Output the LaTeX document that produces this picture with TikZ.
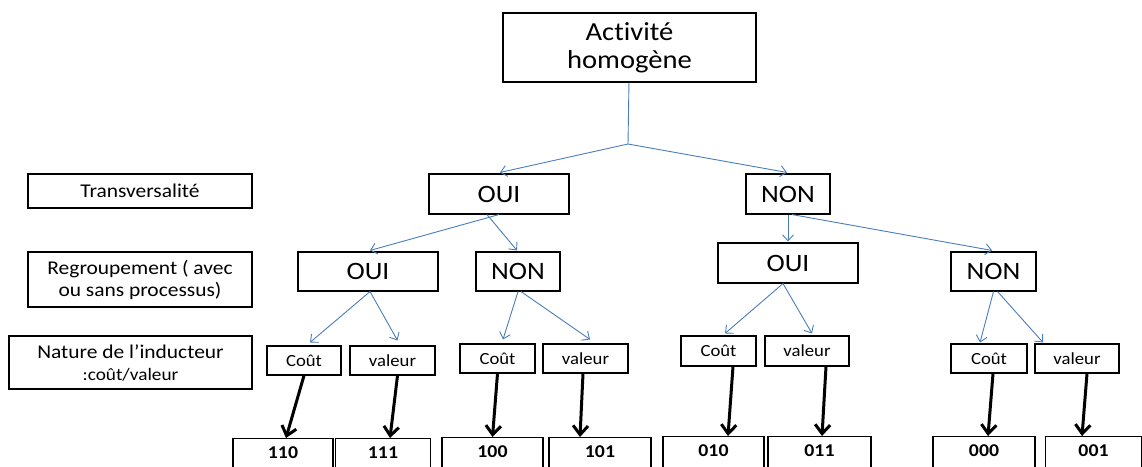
\documentclass[tikz,border=0pt]{standalone}
\usepackage{fontspec}
\setmainfont{Carlito}[FakeStretch=1.1,Ligatures=NoCommon]
\usepackage{tikz}
\usetikzlibrary{arrows.meta}
\definecolor{lien}{RGB}{74,126,187}

\begin{document}
\begin{tikzpicture}[x=1pt,y=-1pt,
    boite/.style={draw,line width=1.1pt,inner sep=0pt,align=center},
    crit/.style={boite,minimum width=224pt,font=\fontsize{19.5}{22}\selectfont},
    rep/.style={boite,minimum height=40pt,font=\fontsize{25}{27}\selectfont},
    induc/.style={boite,minimum height=29pt,font=\fontsize{17}{19}\selectfont},
    code/.style={boite,anchor=north,text height=20pt,text depth=30pt,font=\fontsize{18}{20}\selectfont\bfseries},
    fleche/.style={lien,line width=0.9pt,-{Straight Barb[length=6pt,width=11pt]}},
    grosse/.style={black,line width=3pt,-{Straight Barb[length=9pt,width=15pt]}}]
    \useasboundingbox (0,0) rectangle (1142,466);
    \clip (0,0) rectangle (1142,466);

    % racine et criteres
    \node[boite,minimum width=253pt,minimum height=69pt,font=\fontsize{26}{28}\selectfont] (racine) at (629.5,47.5) {Activité\\homogène};
    \node[crit,minimum height=34pt] (transv) at (140,191) {Transversalité};
    \node[crit,minimum height=55pt] (regroup) at (140,279.5) {Regroupement ( avec\\ou sans processus)};
    \node[crit,minimum width=243pt,minimum height=53pt] (nature) at (130.5,362.5) {Nature de l’inducteur\\{\fontsize{17.5}{20}\selectfont :coût/valeur}};

    % niveau 1 et 2
    \node[rep,minimum width=140pt] (oui1) at (499,194) {OUI};
    \node[rep,minimum width=84pt] (non1) at (788,194) {NON};
    \node[rep,minimum width=140pt,minimum height=39pt] (ouiA) at (368,271.5) {OUI};
    \node[rep,minimum width=84pt,minimum height=39pt] (nonA) at (518,271.5) {NON};
    \node[rep,minimum width=140pt] (ouiB) at (788,263) {OUI};
    \node[rep,minimum width=85pt,minimum height=39pt] (nonB) at (993.5,271.5) {NON};

    % niveau 3
    \node[induc,minimum width=74pt] (coutA) at (304,360.5) {Coût};
    \node[induc,minimum width=85pt] (valA) at (392.5,360.5) {valeur};
    \node[induc,minimum width=75pt] (coutB) at (497.5,358.5) {Coût};
    \node[induc,minimum width=85pt] (valB) at (585.5,358.5) {valeur};
    \node[induc,minimum width=75pt,minimum height=30pt] (coutC) at (718.5,351) {Coût};
    \node[induc,minimum width=84pt,minimum height=30pt] (valC) at (807,351) {valeur};
    \node[induc,minimum width=76pt] (coutD) at (989,358.5) {Coût};
    \node[induc,minimum width=84pt] (valD) at (1077,358.5) {valeur};

    % codes
    \node[code,minimum width=100pt] (c110) at (283,438) {110};
    \node[code,minimum width=95pt] (c111) at (383,438) {111};
    \node[code,minimum width=101pt] (c100) at (492.5,437) {100};
    \node[code,minimum width=102pt] (c101) at (600,437) {101};
    \node[code,minimum width=101pt] (c010) at (713.5,436) {010};
    \node[code,minimum width=103pt] (c011) at (819.5,436) {011};
    \node[code,minimum width=102pt] (c000) at (984,436) {000};
    \node[code,minimum width=96pt] (c001) at (1093.5,436) {001};

    \coordinate (noeud) at (628,144);
    \draw[lien,line width=0.9pt] (racine) -- (noeud);

    \path[fleche] (noeud) edge ([xshift=1pt,yshift=1pt]oui1.north)
          (noeud) edge ([xshift=-1pt,yshift=1pt]non1.north)
          (oui1.south) edge ([xshift=2pt,yshift=1pt]ouiA.north)
          ([xshift=-12pt]oui1.south) edge ([xshift=-1pt,yshift=1pt]nonA.north)
          (non1.south) edge ([yshift=1pt]ouiB.north)
          ([xshift=4pt]non1.south) edge ([xshift=-1.5pt,yshift=1pt]nonB.north)
          ([xshift=2pt]ouiA.south) edge ([xshift=6pt,yshift=3pt]coutA.north)
          ([xshift=2pt]ouiA.south) edge ([xshift=5pt,yshift=5pt]valA.north)
          (nonA.south) edge ([xshift=5.5pt,yshift=4pt]coutB.north)
          ([xshift=3pt]nonA.south) edge ([xshift=4.5pt,yshift=4pt]valB.north)
          ([xshift=-5pt]ouiB.south) edge ([xshift=6.5pt,yshift=2pt]coutC.north)
          ([xshift=-5pt]ouiB.south) edge ([xshift=5pt,yshift=2pt]valC.north)
          (nonB.south) edge ([xshift=-9pt,yshift=1pt]coutD.north)
          ([xshift=4pt]nonB.south) edge ([xshift=-34pt,yshift=1pt]valD.north);

    \path[grosse] (coutA.south) edge ([xshift=3pt]c110.north)
          ([xshift=5pt]valA.south) edge ([xshift=7pt]c111.north)
          (coutB.south) edge (c100.north)
          ([xshift=-2.5pt]valB.south) edge ([xshift=-20pt]c101.north)
          ([xshift=14.5pt]coutC.south) edge ([xshift=14.5pt]c010.north)
          ([xshift=19pt]valC.south) edge ([xshift=2.5pt]c011.north)
          ([xshift=4pt]coutD.south) edge ([xshift=4pt]c000.north)
          ([xshift=10pt]valD.south) edge ([xshift=-11.5pt]c001.north);
\end{tikzpicture}
\end{document}
